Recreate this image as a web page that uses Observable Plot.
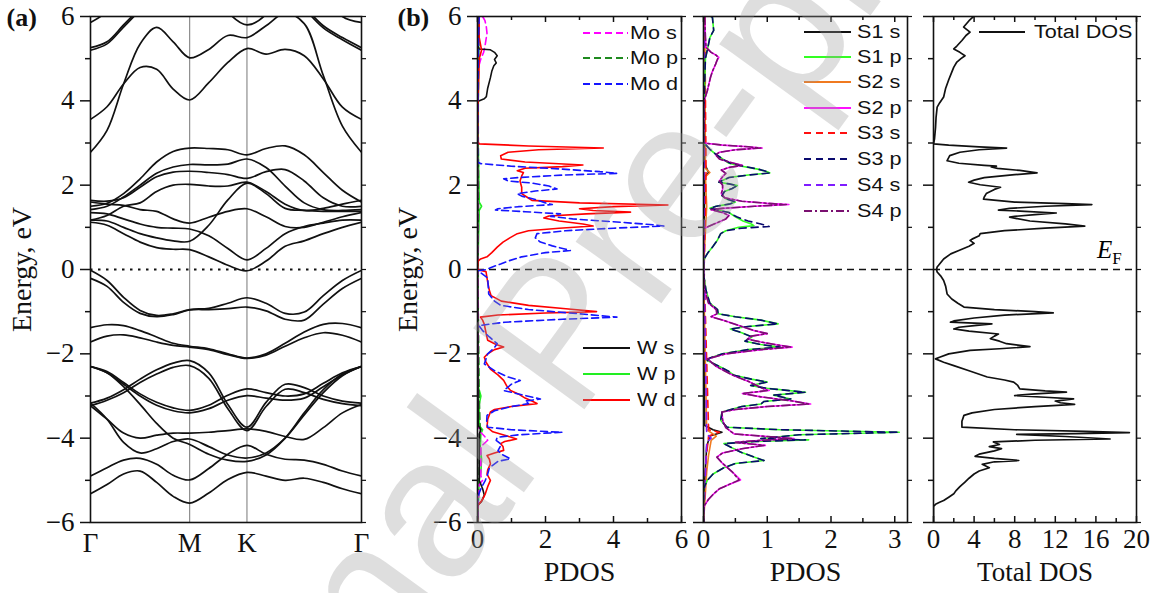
<!DOCTYPE html>
<html><head><meta charset="utf-8">
<script src="https://cdn.jsdelivr.net/npm/d3@7"></script>
<script src="https://cdn.jsdelivr.net/npm/@observablehq/plot@0.6"></script>
<style>
body{margin:0;background:#fff;}
#wrap{position:relative;width:1166px;height:593px;overflow:hidden;background:#fff;}
.panel{position:absolute;top:0;}
.leg{position:absolute;font-family:"Liberation Sans",Arial,sans-serif;font-size:18px;color:#111;white-space:nowrap;line-height:20px;height:20px;}
.leg svg{position:absolute;top:5px;}
.leg span{position:absolute;top:0;display:inline-block;transform:scaleX(1.2);transform-origin:left center;}
#ef{position:absolute;font-family:"Liberation Serif",serif;font-size:25px;left:1097px;top:236px;}
#ef sub{font-size:17px;font-style:normal;}
#wm{position:absolute;left:0;top:0;pointer-events:none;}
</style></head><body><div id="wrap"></div>
<script>
// ---------- band structure (panel a) ----------
const kHigh = [0, 0.5774, 0.9107, 1.5774];           // Γ, M, K, Γ
const kNames = ["Γ", "M", "K", "Γ"];
const kSteps = [6, 3, 6];
const eMajor = [-6, -4, -2, 0, 2, 4, 6];
const eMinor = [-5, -3, -1, 1, 3, 5];

const bands = {
  Ua: [2.78, 3.30, 4.40, 5.35, 5.74, 5.40, 5.02, 5.22, 5.55, 5.50, 5.78, 6.08, 5.83, 4.60, 3.40, 2.78],
  Ub: [3.56, 3.86, 4.40, 4.79, 4.75, 4.28, 4.02, 4.43, 4.91, 5.24, 5.11, 5.22, 5.07, 4.52, 3.85, 3.56],
  Ud: [NaN, NaN, NaN, NaN, NaN, NaN, 7.50, 6.80, 6.10, 5.80, 6.05, 6.80, NaN, NaN, NaN, NaN],
  Ue1: [5.26, 5.40, 5.80, 6.20, 6.60, NaN, NaN, NaN, NaN, NaN, NaN, NaN, 6.25, 5.78, 5.50, 5.26],
  Ue2: [5.20, 5.35, 5.75, 6.15, 6.55, NaN, NaN, NaN, NaN, NaN, NaN, NaN, 6.20, 5.73, 5.45, 5.20],
  Uf: [5.86, 6.12, 6.70, NaN, NaN, NaN, NaN, NaN, NaN, NaN, NaN, NaN, NaN, 6.60, 6.00, 5.86],
  A: [1.50, 1.57, 1.80, 2.15, 2.55, 2.80, 2.88, 2.87, 2.84, 2.72, 2.87, 2.93, 2.72, 2.30, 1.88, 1.60],
  B: [1.42, 1.50, 1.72, 2.00, 2.28, 2.43, 2.49, 2.48, 2.50, 2.62, 2.42, 1.98, 1.58, 1.42, 1.40, 1.42],
  C: [1.64, 1.62, 1.70, 1.95, 2.20, 2.31, 2.33, 2.30, 2.25, 2.16, 2.32, 2.37, 2.10, 1.70, 1.50, 1.50],
  D: [1.17, 1.28, 1.50, 1.58, 1.85, 2.00, 2.02, 1.98, 1.98, 2.07, 1.85, 1.55, 1.40, 1.45, 1.55, 1.64],
  E: [1.60, 1.55, 1.52, 1.42, 1.38, 1.20, 1.10, 1.24, 1.38, 1.44, 1.25, 1.02, 1.00, 1.12, 1.25, 1.35],
  F: [1.35, 1.32, 1.20, 1.08, 1.00, 0.98, 0.96, 0.80, 0.50, 0.23, 0.50, 0.85, 1.02, 1.10, 1.17, 1.17],
  G: [1.17, 1.15, 1.00, 0.85, 0.75, 0.68, 0.67, 1.05, 1.65, 2.05, 1.80, 1.45, 1.40, 1.38, 1.38, 1.38],
  H: [1.12, 1.05, 0.85, 0.65, 0.52, 0.48, 0.47, 0.30, 0.10, -0.03, 0.20, 0.55, 0.68, 0.85, 1.00, 1.12],
  V1: [-0.02, -0.26, -0.66, -0.97, -1.09, -1.05, -0.95, -0.92, -0.80, -0.67, -0.80, -1.04, -1.01, -0.62, -0.26, -0.02],
  V2: [-0.21, -0.40, -0.78, -1.04, -1.12, -1.07, -0.96, -0.95, -0.93, -0.89, -0.98, -1.18, -1.20, -0.82, -0.45, -0.21],
  V3: [-1.38, -1.31, -1.33, -1.45, -1.60, -1.75, -1.82, -1.88, -2.00, -2.10, -2.00, -1.75, -1.48, -1.30, -1.28, -1.38],
  V4: [-1.72, -1.58, -1.55, -1.62, -1.72, -1.80, -1.84, -1.90, -2.02, -2.11, -2.03, -1.82, -1.62, -1.50, -1.56, -1.72],
  Q1: [-2.30, -2.42, -2.68, -2.95, -3.15, -3.28, -3.34, -3.22, -2.98, -2.83, -2.92, -3.00, -2.95, -2.70, -2.45, -2.30],
  Q2: [-2.30, -2.45, -2.72, -3.00, -3.22, -3.35, -3.40, -3.30, -3.10, -2.99, -3.05, -3.10, -3.05, -2.78, -2.50, -2.30],
  Q3: [-3.17, -3.05, -2.85, -2.60, -2.38, -2.22, -2.16, -2.45, -3.20, -3.74, -3.15, -2.72, -2.80, -3.00, -3.12, -3.17],
  Q4: [-3.23, -3.10, -2.92, -2.68, -2.48, -2.32, -2.28, -2.58, -3.30, -3.82, -3.25, -2.84, -2.92, -3.08, -3.18, -3.23],
  Q5: [-3.23, -3.55, -3.88, -4.00, -3.93, -3.88, -3.88, -3.86, -3.82, -3.78, -3.84, -3.96, -4.03, -3.75, -3.40, -3.20],
  Q6: [-3.17, -3.55, -4.10, -4.35, -4.25, -4.08, -4.02, -4.20, -4.40, -4.47, -4.35, -4.00, -3.45, -2.92, -2.52, -2.30],
  Q7: [-2.30, -2.45, -2.78, -3.20, -3.65, -4.00, -4.15, -4.38, -4.52, -4.55, -4.40, -4.00, -3.40, -2.85, -2.48, -2.30],
  Q9: [-4.90, -4.70, -4.52, -4.48, -4.62, -4.88, -4.99, -4.72, -4.38, -4.17, -4.38, -4.50, -4.52, -4.62, -4.78, -4.90],
  Q10: [-5.32, -5.10, -4.85, -4.78, -5.05, -5.38, -5.54, -5.30, -4.98, -4.81, -4.90, -5.00, -4.95, -5.05, -5.20, -5.32]
};

// ---------- PDOS, panel b1: [energy, PDOS] ----------
const Wd = [[6.0,0.05],[5.5,0.05],[5.2,0.12],[5.0,0.05],[4.0,0.02],[3.05,0],[2.98,0.05],[2.93,1.5],[2.88,3.7],[2.84,1.8],[2.78,0.9],[2.70,0.68],[2.62,0.7],[2.55,1.4],[2.48,3.1],[2.44,2.5],[2.40,1.4],[2.34,1.17],[2.30,1.35],[2.22,1.3],[2.10,1.25],[1.95,1.3],[1.80,1.3],[1.72,1.45],[1.64,1.6],[1.58,3.0],[1.53,5.6],[1.49,4.0],[1.44,3.0],[1.40,3.4],[1.36,4.5],[1.32,3.2],[1.27,2.1],[1.22,1.95],[1.15,2.4],[1.08,3.1],[1.03,3.4],[0.98,2.4],[0.92,1.5],[0.85,1.17],[0.75,0.95],[0.65,0.75],[0.53,0.58],[0.40,0.42],[0.30,0.28],[0.25,0.09],[0.2,0.02],[0.0,0.0],[-0.05,0.25],[-0.3,0.3],[-0.5,0.35],[-0.62,0.4],[-0.75,0.7],[-0.85,1.5],[-0.93,2.6],[-1.0,3.5],[-1.03,2.0],[-1.08,0.6],[-1.13,0.09],[-1.2,0.15],[-1.3,0.2],[-1.5,0.25],[-1.68,0.3],[-1.78,0.55],[-1.84,0.77],[-1.9,0.5],[-2.0,0.3],[-2.08,0.2],[-2.2,0.25],[-2.36,0.38],[-2.5,0.6],[-2.63,0.77],[-2.75,0.85],[-2.87,0.97],[-2.95,1.2],[-3.05,1.4],[-3.12,1.6],[-3.18,1.75],[-3.25,1.0],[-3.32,0.5],[-3.38,0.38],[-3.55,0.3],[-3.74,0.28],[-3.85,0.45],[-3.93,0.8],[-4.02,1.15],[-4.08,0.8],[-4.13,0.68],[-4.2,0.75],[-4.29,0.77],[-4.35,0.5],[-4.41,0.28],[-4.5,0.35],[-4.61,0.38],[-4.75,0.3],[-4.85,0.28],[-5.0,0.38],[-5.15,0.3],[-5.32,0.23],[-5.45,0.15],[-5.52,0.09],[-5.6,0],[-6,0]];
const Md = [[6.0,0.05],[5.5,0.03],[3.0,0.0],[2.55,0.0],[2.51,0.1],[2.45,1.0],[2.38,2.5],[2.32,3.6],[2.28,4.1],[2.24,2.5],[2.18,1.2],[2.15,0.77],[2.1,0.9],[2.05,1.6],[1.98,2.1],[1.91,2.34],[1.86,1.7],[1.80,1.17],[1.74,1.3],[1.66,1.7],[1.58,2.0],[1.54,2.2],[1.49,1.2],[1.44,0.6],[1.41,0.53],[1.37,1.4],[1.32,2.44],[1.26,2.15],[1.2,2.8],[1.12,4.2],[1.06,5.2],[1.03,5.48],[0.98,4.0],[0.92,2.6],[0.85,1.75],[0.75,1.7],[0.65,1.85],[0.56,2.2],[0.48,2.6],[0.45,2.73],[0.40,2.0],[0.30,1.3],[0.20,0.9],[0.13,0.68],[0.05,0.4],[0.0,0.28],[-0.03,0.02],[-0.08,0.1],[-0.2,0.3],[-0.58,0.33],[-0.75,0.5],[-0.85,0.68],[-0.95,1.5],[-1.05,3.0],[-1.13,4.1],[-1.18,2.5],[-1.25,0.8],[-1.33,0.04],[-1.45,0.15],[-1.6,0.35],[-1.76,0.58],[-1.85,0.5],[-2.0,0.3],[-2.24,0.2],[-2.4,0.5],[-2.55,0.9],[-2.63,1.26],[-2.72,1.0],[-2.87,0.77],[-2.97,1.3],[-3.07,1.85],[-3.12,1.4],[-3.18,1.5],[-3.25,1.0],[-3.35,0.5],[-3.46,0.28],[-3.6,0.27],[-3.74,0.3],[-3.8,1.0],[-3.86,2.49],[-3.92,1.2],[-3.98,0.58],[-4.05,0.55],[-4.15,0.7],[-4.3,0.6],[-4.4,0.75],[-4.49,0.97],[-4.55,0.6],[-4.7,0.35],[-4.85,0.3],[-5.0,0.23],[-5.2,0.1],[-5.32,0.04],[-5.5,0],[-6,0]];
const Ws = [[6,0.0],[5.3,0.02],[5.23,0.05],[5.21,0.38],[5.15,0.5],[5.07,0.58],[4.98,0.5],[4.9,0.55],[4.83,0.48],[4.7,0.42],[4.55,0.38],[4.3,0.3],[4.1,0.26],[4.05,0.2],[3.99,0.02],[3.9,0],[0,0],[-3.7,0.02],[-3.8,0.1],[-3.9,0.05],[-5.0,0.05],[-5.2,0.15],[-5.35,0.2],[-5.5,0.12],[-5.6,0],[-6,0]];
const Ms = [[6,0.15],[5.9,0.22],[5.75,0.26],[5.6,0.28],[5.45,0.25],[5.3,0.22],[5.15,0.18],[5.0,0.1],[4.8,0.03],[4,0],[-3.8,0.02],[-3.95,0.2],[-4.05,0.3],[-4.2,0.1],[-4.9,0.1],[-5.0,0.15],[-5.1,0.05],[-6,0]];
const Wp = [[6,0.03],[3,0.02],[1.6,0.05],[1.5,0.12],[1.4,0.05],[0,0.01],[-2.8,0.03],[-3.0,0.1],[-3.2,0.05],[-3.7,0.05],[-3.8,0.15],[-3.9,0.1],[-4.2,0.08],[-4.5,0.12],[-4.8,0.1],[-5.0,0.05],[-5.5,0.03],[-6,0]];
const Mp = [[6,0.05],[5.5,0.04],[4,0.02],[1.5,0.03],[0,0.01],[-3,0.05],[-3.8,0.08],[-4.5,0.06],[-5.5,0.02],[-6,0]];

// ---------- PDOS, panel b2 (S atoms) ----------
const S1p = [[6.0,0.12],[5.98,0.14],[5.67,0.16],[5.5,0.1],[5.35,0.08],[5.0,0.03],[4.0,0.01],[3.0,0.0],[2.95,0.04],[2.85,0.1],[2.75,0.18],[2.62,0.3],[2.52,0.4],[2.45,0.6],[2.38,0.85],[2.32,1.0],[2.29,1.04],[2.24,0.7],[2.18,0.4],[2.1,0.28],[2.07,0.24],[2.03,0.4],[1.99,0.53],[1.92,0.45],[1.85,0.33],[1.75,0.29],[1.68,0.35],[1.6,0.5],[1.55,0.4],[1.5,0.2],[1.45,0.1],[1.4,0.25],[1.35,0.4],[1.25,0.5],[1.15,0.62],[1.08,0.75],[1.04,0.79],[1.0,0.55],[0.92,0.35],[0.85,0.27],[0.7,0.22],[0.55,0.15],[0.4,0.07],[0.3,0.03],[0.2,0.0],[0,0],[-0.2,0.01],[-0.5,0.04],[-0.8,0.1],[-0.95,0.22],[-1.05,0.23],[-1.12,0.5],[-1.2,0.9],[-1.29,1.17],[-1.35,0.7],[-1.41,0.42],[-1.5,0.6],[-1.6,0.76],[-1.7,0.65],[-1.78,0.9],[-1.84,1.2],[-1.9,0.7],[-2.0,0.3],[-2.1,0.1],[-2.16,0.06],[-2.3,0.25],[-2.42,0.4],[-2.51,0.48],[-2.6,0.75],[-2.67,1.0],[-2.75,0.74],[-2.82,1.0],[-2.91,1.6],[-2.98,1.1],[-3.07,1.37],[-3.13,0.95],[-3.19,0.9],[-3.25,0.6],[-3.38,0.29],[-3.58,0.27],[-3.74,0.37],[-3.8,1.2],[-3.86,3.07],[-3.92,1.5],[-4.01,0.9],[-4.04,1.65],[-4.08,0.8],[-4.13,0.32],[-4.23,0.45],[-4.33,0.58],[-4.45,0.8],[-4.53,0.95],[-4.6,0.5],[-4.7,0.32],[-4.85,0.15],[-5.0,0.06],[-5.2,0.0],[-6,0]];
const S3p = [[6.0,0.12],[5.98,0.14],[5.67,0.16],[5.5,0.1],[5.35,0.08],[5.0,0.03],[4.0,0.01],[3.0,0.0],[2.95,0.04],[2.85,0.1],[2.75,0.18],[2.62,0.3],[2.52,0.42],[2.45,0.62],[2.38,0.86],[2.32,1.0],[2.29,1.04],[2.24,0.7],[2.18,0.4],[2.1,0.28],[2.07,0.24],[2.03,0.4],[1.99,0.53],[1.92,0.45],[1.85,0.33],[1.75,0.29],[1.68,0.35],[1.6,0.5],[1.55,0.4],[1.5,0.2],[1.45,0.1],[1.4,0.25],[1.35,0.4],[1.25,0.52],[1.15,0.7],[1.08,0.9],[1.02,1.03],[0.98,0.6],[0.92,0.35],[0.85,0.27],[0.7,0.22],[0.55,0.15],[0.4,0.07],[0.3,0.03],[0.2,0.0],[0,0],[-0.2,0.01],[-0.5,0.04],[-0.8,0.1],[-0.95,0.22],[-1.05,0.23],[-1.12,0.5],[-1.2,0.9],[-1.29,1.17],[-1.35,0.7],[-1.41,0.42],[-1.5,0.6],[-1.6,0.76],[-1.7,0.65],[-1.78,0.9],[-1.84,1.2],[-1.9,0.7],[-2.0,0.3],[-2.1,0.1],[-2.16,0.06],[-2.3,0.25],[-2.42,0.4],[-2.51,0.48],[-2.6,0.75],[-2.67,1.0],[-2.75,0.74],[-2.82,1.0],[-2.91,1.6],[-2.98,1.1],[-3.07,1.37],[-3.13,0.95],[-3.19,0.9],[-3.25,0.6],[-3.38,0.29],[-3.58,0.27],[-3.74,0.37],[-3.8,1.2],[-3.86,3.07],[-3.92,1.5],[-4.01,0.9],[-4.04,1.6],[-4.08,0.8],[-4.13,0.32],[-4.23,0.45],[-4.33,0.58],[-4.45,0.8],[-4.53,0.95],[-4.6,0.5],[-4.7,0.32],[-4.85,0.15],[-5.0,0.06],[-5.2,0.0],[-6,0]];
const S2p = [[6.0,0.02],[5.5,0.03],[5.27,0.04],[5.15,0.12],[5.08,0.2],[5.03,0.24],[4.95,0.21],[4.87,0.19],[4.7,0.14],[4.56,0.11],[4.24,0.06],[4.0,0.01],[3.0,0.0],[2.95,0.3],[2.91,0.7],[2.88,0.92],[2.84,0.5],[2.78,0.25],[2.72,0.19],[2.62,0.25],[2.55,0.4],[2.47,0.61],[2.42,0.4],[2.36,0.28],[2.28,0.35],[2.2,0.3],[2.1,0.25],[2.0,0.3],[1.9,0.3],[1.8,0.28],[1.7,0.33],[1.62,0.6],[1.57,1.0],[1.54,1.34],[1.5,0.8],[1.45,0.3],[1.42,0.12],[1.35,0.3],[1.28,0.4],[1.2,0.35],[1.1,0.2],[1.0,0.05],[0.97,0.0],[0,0],[-0.5,0.02],[-0.8,0.08],[-0.95,0.2],[-1.05,0.21],[-1.12,0.12],[-1.2,0.3],[-1.35,0.6],[-1.45,0.8],[-1.52,1.0],[-1.58,0.75],[-1.65,0.69],[-1.72,0.9],[-1.8,1.2],[-1.84,1.39],[-1.9,0.9],[-2.0,0.35],[-2.12,0.06],[-2.3,0.2],[-2.5,0.45],[-2.65,0.7],[-2.8,0.9],[-2.87,1.03],[-2.94,0.61],[-3.02,0.9],[-3.12,1.4],[-3.19,1.68],[-3.25,1.0],[-3.32,0.5],[-3.38,0.29],[-3.58,0.3],[-3.75,0.35],[-3.9,0.48],[-3.96,1.0],[-4.01,1.42],[-4.06,0.8],[-4.1,0.5],[-4.17,0.97],[-4.25,0.6],[-4.35,0.3],[-4.45,0.21],[-4.6,0.3],[-4.8,0.45],[-4.99,0.58],[-5.1,0.4],[-5.2,0.25],[-5.32,0.16],[-5.45,0.08],[-5.56,0.03],[-5.65,0],[-6,0]];
const S4p = [[6.0,0.02],[5.5,0.03],[5.27,0.04],[5.15,0.12],[5.08,0.2],[5.03,0.23],[4.95,0.21],[4.87,0.19],[4.7,0.14],[4.56,0.11],[4.24,0.06],[4.0,0.01],[3.0,0.0],[2.95,0.3],[2.91,0.7],[2.88,0.9],[2.84,0.5],[2.78,0.25],[2.72,0.19],[2.62,0.25],[2.55,0.4],[2.47,0.6],[2.42,0.4],[2.36,0.28],[2.28,0.35],[2.2,0.3],[2.1,0.25],[2.0,0.3],[1.9,0.3],[1.8,0.28],[1.7,0.33],[1.62,0.6],[1.57,1.0],[1.54,1.3],[1.5,0.8],[1.45,0.3],[1.42,0.12],[1.35,0.3],[1.28,0.4],[1.2,0.35],[1.1,0.2],[1.0,0.05],[0.97,0.0],[0,0],[-0.5,0.02],[-0.8,0.08],[-0.95,0.2],[-1.05,0.21],[-1.12,0.12],[-1.2,0.3],[-1.35,0.6],[-1.45,0.8],[-1.52,1.0],[-1.58,0.75],[-1.65,0.69],[-1.72,0.9],[-1.8,1.2],[-1.84,1.37],[-1.9,0.9],[-2.0,0.35],[-2.12,0.06],[-2.3,0.2],[-2.5,0.45],[-2.65,0.7],[-2.8,0.9],[-2.87,1.0],[-2.94,0.61],[-3.02,0.9],[-3.12,1.4],[-3.19,1.65],[-3.25,1.0],[-3.32,0.5],[-3.38,0.29],[-3.58,0.3],[-3.75,0.35],[-3.9,0.48],[-3.96,1.0],[-4.01,1.4],[-4.06,0.8],[-4.1,0.5],[-4.17,0.95],[-4.25,0.6],[-4.35,0.3],[-4.45,0.21],[-4.6,0.3],[-4.8,0.45],[-4.99,0.56],[-5.1,0.4],[-5.2,0.25],[-5.32,0.16],[-5.45,0.08],[-5.56,0.03],[-5.65,0],[-6,0]];
const S1s = [[6,0.01],[2.5,0.02],[2.3,0.08],[2.2,0.02],[0,0],[-3.7,0.02],[-3.8,0.15],[-3.86,0.29],[-3.95,0.1],[-4.2,0.05],[-5,0.02],[-6,0]];
const S2s = [[6,0.02],[2.4,0.03],[2.3,0.1],[2.2,0.03],[1.5,0.05],[0,0],[-3.8,0.05],[-3.95,0.2],[-4.05,0.12],[-4.4,0.08],[-4.8,0.05],[-5.3,0.03],[-6,0]];
const S3s = [[6,0.02],[2.3,0.04],[0,0.01],[-3.8,0.08],[-3.86,0.25],[-3.95,0.08],[-4.5,0.04],[-6,0]];
const S4s = [[6,0.01],[0,0.01],[-3.9,0.05],[-4.0,0.12],[-4.1,0.05],[-6,0]];

// ---------- Total DOS (panel b3) ----------
const TDOS = [[6.0,3.95],[5.9,3.5],[5.75,2.97],[5.63,3.6],[5.55,3.2],[5.43,2.8],[5.3,2.3],[5.23,2.0],[5.15,2.6],[5.07,3.1],[5.0,2.7],[4.92,2.3],[4.8,2.0],[4.68,1.8],[4.5,1.5],[4.3,1.2],[4.09,1.0],[3.95,0.6],[3.85,0.36],[3.6,0.25],[3.37,0.2],[3.1,0.1],[2.98,0.0],[2.95,1.5],[2.91,4.5],[2.88,7.2],[2.84,4.5],[2.78,2.6],[2.7,1.6],[2.58,1.34],[2.52,2.5],[2.47,5.0],[2.45,6.2],[2.43,5.7],[2.4,6.3],[2.35,8.5],[2.29,10.2],[2.25,8.0],[2.18,5.0],[2.12,4.0],[2.07,3.46],[2.01,4.6],[1.95,6.6],[1.9,6.0],[1.8,5.2],[1.72,5.0],[1.67,4.93],[1.6,8.0],[1.56,13.0],[1.54,15.6],[1.5,11.0],[1.45,7.5],[1.41,6.4],[1.38,9.0],[1.34,12.1],[1.3,10.0],[1.26,8.0],[1.24,7.5],[1.15,9.5],[1.08,13.0],[1.03,14.9],[0.98,11.0],[0.92,7.0],[0.85,4.6],[0.8,4.5],[0.72,3.8],[0.69,3.6],[0.62,4.0],[0.55,3.5],[0.45,2.5],[0.37,1.7],[0.25,1.0],[0.1,0.5],[0.06,0.36],[0.0,0.3],[-0.06,0.36],[-0.15,0.7],[-0.26,1.0],[-0.4,1.2],[-0.58,1.34],[-0.7,1.8],[-0.8,2.4],[-0.89,3.0],[-0.95,6.0],[-1.0,10.0],[-1.03,11.8],[-1.08,7.0],[-1.15,4.0],[-1.22,2.0],[-1.25,1.67],[-1.29,5.75],[-1.33,4.0],[-1.37,2.5],[-1.41,2.0],[-1.46,3.5],[-1.53,6.4],[-1.58,6.0],[-1.64,5.6],[-1.7,6.5],[-1.76,7.2],[-1.83,9.5],[-1.88,6.5],[-1.92,3.6],[-2.0,1.5],[-2.08,0.6],[-2.12,0.2],[-2.2,1.0],[-2.28,2.0],[-2.4,3.5],[-2.55,5.3],[-2.62,7.0],[-2.67,7.9],[-2.75,8.3],[-2.83,8.5],[-2.88,11.0],[-2.91,13.1],[-2.95,10.0],[-2.99,8.0],[-3.03,11.0],[-3.07,13.8],[-3.12,12.0],[-3.16,12.5],[-3.2,13.9],[-3.25,10.0],[-3.32,6.0],[-3.4,3.8],[-3.46,3.0],[-3.6,2.8],[-3.74,2.8],[-3.8,8.0],[-3.84,15.0],[-3.87,19.3],[-3.89,14.0],[-3.91,8.2],[-3.96,13.0],[-4.02,17.4],[-4.05,10.0],[-4.09,5.9],[-4.15,6.5],[-4.2,5.5],[-4.25,6.7],[-4.3,6.0],[-4.38,4.5],[-4.43,4.1],[-4.48,6.0],[-4.53,8.4],[-4.56,6.0],[-4.62,4.8],[-4.7,5.5],[-4.78,4.5],[-4.85,4.0],[-4.95,3.5],[-5.04,3.1],[-5.15,2.6],[-5.25,2.2],[-5.32,2.0],[-5.4,1.5],[-5.48,1.0],[-5.52,0.6],[-5.57,0.2],[-5.62,0],[-6,0]];

const pdosTicks1 = [0, 2, 4, 6], pdosMinor1 = [1, 3, 5];
const pdosTicks2 = [0, 1, 2, 3], pdosMinor2 = [0.5, 1.5, 2.5];
const totTicks = [0, 4, 8, 12, 16, 20], totMinor = [2, 6, 10, 14, 18];

// ---------- helpers ----------
const fmtE = d => d < 0 ? "\u2212" + (-d) : String(d);
const kGrid = [];
kHigh.slice(0, -1).forEach((k0, i) => {
  const k1 = kHigh[i + 1];
  for (let j = 0; j < kSteps[i]; j++) kGrid.push(k0 + (k1 - k0) * j / kSteps[i]);
});
kGrid.push(kHigh[kHigh.length - 1]);
const bandRows = Object.entries(bands).flatMap(([name, es]) => es.map((E, i) => ({band: name, k: kGrid[i], E})));
const kLab = new Map(kHigh.map((k, i) => [k, kNames[i]]));

const H = 593, MT = 16, MB = 71, innerH = H - MT - MB;
const baseStyle = {fontFamily: "'Liberation Serif', 'Times New Roman', serif", fontSize: "27px", overflow: "visible", background: "transparent", color: "#111"};
const wrap = document.getElementById("wrap");
function place(svg, left) { const d = document.createElement("div"); d.className = "panel"; d.style.left = left + "px"; d.appendChild(svg); wrap.appendChild(d); }

function yAxes(labels) {
  return [
    Plot.axisY({ticks: eMajor, tickSize: 10, tickPadding: 6, tickFormat: labels ? fmtE : () => "", label: null, strokeWidth: 1.5}),
    Plot.axisY({ticks: eMinor, tickSize: 5, tickFormat: () => "", label: null, strokeWidth: 1.5}),
    Plot.axisY({anchor: "right", ticks: eMajor.concat(eMinor), tickSize: 4, tickFormat: () => "", label: null, strokeWidth: 1.2})
  ];
}
function xTicksIn(major, minor) {
  return [
    Plot.tickX(major, {x: d => d, insetTop: innerH - 6, stroke: "#111", strokeWidth: 1.5}),
    Plot.tickX(minor, {x: d => d, insetTop: innerH - 4, stroke: "#111", strokeWidth: 1.5}),
    Plot.tickX(major, {x: d => d, insetBottom: innerH - 6, stroke: "#111", strokeWidth: 1.5}),
    Plot.tickX(minor, {x: d => d, insetBottom: innerH - 4, stroke: "#111", strokeWidth: 1.5}),
    Plot.axisX({ticks: major, tickSize: 0, tickPadding: 6, tickFormat: d => String(d), label: null})
  ];
}
const ln = (data, stroke, opts = {}) => Plot.line(data, {x: d => d[1], y: d => d[0], stroke, strokeWidth: 1.6, clip: true, ...opts});
const zeroDash = Plot.ruleY([0], {stroke: "#111", strokeWidth: 1.5, strokeDasharray: "7,5"});

// ---------- panel (a) ----------
place(Plot.plot({
  width: 372, height: H, marginLeft: 90, marginRight: 11, marginTop: MT, marginBottom: MB,
  style: baseStyle,
  x: {domain: [kHigh[0], kHigh[3]]},
  y: {domain: [-6, 6]},
  marks: [
    Plot.ruleX([kHigh[1], kHigh[2]], {stroke: "#777", strokeWidth: 1}),
    Plot.ruleY([0], {stroke: "#111", strokeWidth: 1.8, strokeDasharray: "2.5,5.5"}),
    Plot.line(bandRows, {x: "k", y: "E", z: "band", curve: "catmull-rom", stroke: "#111", strokeWidth: 1.7, clip: true}),
    Plot.frame({stroke: "#111", strokeWidth: 1.6}),
    ...yAxes(true),
    Plot.axisX({ticks: kHigh, tickSize: 0, tickPadding: 10, tickFormat: d => kLab.get(d), label: null}),
    Plot.text(["Energy, eV"], {frameAnchor: "left", dx: -68, rotate: -90, textAnchor: "middle", fontSize: 28}),
    Plot.text(["(a)"], {frameAnchor: "top-left", dx: -84, dy: 1, textAnchor: "start", lineAnchor: "middle", fontWeight: "bold", fontSize: 26})
  ]
}), 0);

// ---------- panel (b) PDOS Mo/W ----------
place(Plot.plot({
  width: 310, height: H, marginLeft: 97, marginRight: 9, marginTop: MT, marginBottom: MB,
  style: baseStyle,
  x: {domain: [0, 6]},
  y: {domain: [-6, 6]},
  marks: [
    zeroDash,
    ln(Wp, "#22ee22"),
    ln(Mp, "#1f8a1f", {strokeDasharray: "7,4"}),
    ln(Ms, "#ff00ff", {strokeDasharray: "7,4"}),
    ln(Ws, "#111"),
    ln(Wd, "#ff0000"),
    ln(Md, "#1515ff", {strokeDasharray: "7,4"}),
    Plot.frame({stroke: "#111", strokeWidth: 1.6}),
    ...yAxes(true),
    ...xTicksIn(pdosTicks1, pdosMinor1),
    Plot.text(["PDOS"], {frameAnchor: "bottom", dy: 50, lineAnchor: "middle", fontSize: 28}),
    Plot.text(["Energy, eV"], {frameAnchor: "left", dx: -69, rotate: -90, textAnchor: "middle", fontSize: 28}),
    Plot.text(["(b)"], {frameAnchor: "top-left", dx: -80, dy: 1, textAnchor: "start", lineAnchor: "middle", fontWeight: "bold", fontSize: 26})
  ]
}), 380);

// ---------- panel (b) PDOS S ----------
place(Plot.plot({
  width: 225, height: H, marginLeft: 13, marginRight: 8, marginTop: MT, marginBottom: MB,
  style: baseStyle,
  x: {domain: [0, 3.2]},
  y: {domain: [-6, 6]},
  marks: [
    zeroDash,
    ln(S1s, "#111"),
    ln(S2s, "#f07a20"),
    ln(S3s, "#ff1010", {strokeDasharray: "7,5"}),
    ln(S4s, "#7f1cff", {strokeDasharray: "7,5"}),
    ln(S1p, "#33ff22"),
    ln(S2p, "#ff10ff"),
    ln(S3p, "#0a0a6e", {strokeDasharray: "7,5"}),
    ln(S4p, "#7a1070", {strokeDasharray: "8,3,2,3"}),
    Plot.frame({stroke: "#111", strokeWidth: 1.6}),
    ...yAxes(false),
    ...xTicksIn(pdosTicks2, pdosMinor2),
    Plot.text(["PDOS"], {frameAnchor: "bottom", dy: 50, lineAnchor: "middle", fontSize: 28})
  ]
}), 690);

// ---------- panel (b) Total DOS ----------
place(Plot.plot({
  width: 240, height: H, marginLeft: 18, marginRight: 19, marginTop: MT, marginBottom: MB,
  style: baseStyle,
  x: {domain: [0, 20]},
  y: {domain: [-6, 6]},
  marks: [
    zeroDash,
    ln(TDOS, "#111", {strokeWidth: 1.7}),
    Plot.frame({stroke: "#111", strokeWidth: 1.6}),
    ...yAxes(false),
    ...xTicksIn(totTicks, totMinor),
    Plot.text(["Total DOS"], {frameAnchor: "bottom", dy: 50, lineAnchor: "middle", fontSize: 27})
  ]
}), 915);

// ---------- legends ----------
function legend(items) {
  for (const it of items) {
    const d = document.createElement("div");
    d.className = "leg";
    d.style.left = it.x + "px"; d.style.top = (it.y - 10) + "px";
    d.innerHTML = `<svg width="${it.w}" height="10" style="left:0"><line x1="0" y1="5" x2="${it.w}" y2="5" stroke="${it.c}" stroke-width="1.8" ${it.dash ? `stroke-dasharray="${it.dash}"` : ""}/></svg><span style="left:${it.w + it.gap}px">${it.t}</span>`;
    wrap.appendChild(d);
  }
}
legend([
  {x: 583, y: 33, w: 45, gap: 2, c: "#ff00ff", dash: "7,4", t: "Mo s"},
  {x: 583, y: 58, w: 45, gap: 2, c: "#1f8a1f", dash: "7,4", t: "Mo p"},
  {x: 583, y: 84, w: 45, gap: 2, c: "#1515ff", dash: "7,4", t: "Mo d"},
  {x: 583, y: 348, w: 47, gap: 7, c: "#111", t: "W s"},
  {x: 583, y: 374, w: 47, gap: 7, c: "#22ee22", t: "W p"},
  {x: 583, y: 400, w: 47, gap: 7, c: "#ff0000", t: "W d"},
  {x: 804, y: 32, w: 47, gap: 6, c: "#111", t: "S1 s"},
  {x: 804, y: 57, w: 47, gap: 6, c: "#33ff22", t: "S1 p"},
  {x: 804, y: 82, w: 47, gap: 6, c: "#f07a20", t: "S2 s"},
  {x: 804, y: 108, w: 47, gap: 6, c: "#ff10ff", t: "S2 p"},
  {x: 804, y: 133, w: 47, gap: 6, c: "#ff1010", dash: "7,5", t: "S3 s"},
  {x: 804, y: 159, w: 47, gap: 6, c: "#0a0a6e", dash: "7,5", t: "S3 p"},
  {x: 804, y: 185, w: 47, gap: 6, c: "#7f1cff", dash: "7,5", t: "S4 s"},
  {x: 804, y: 211, w: 47, gap: 6, c: "#7a1070", dash: "8,3,2,3", t: "S4 p"},
  {x: 979, y: 32, w: 46, gap: 9, c: "#111", t: "Total DOS"}
]);
const ef = document.createElement("div");
ef.id = "ef"; ef.innerHTML = "<i>E</i><sub>F</sub>";
wrap.appendChild(ef);

// ---------- watermark ----------
const wm = document.createElementNS("http://www.w3.org/2000/svg", "svg");
wm.setAttribute("id", "wm"); wm.setAttribute("width", 1166); wm.setAttribute("height", 593);
wm.innerHTML = `<text x="0" y="0" transform="translate(568,342) rotate(-54)" text-anchor="middle" dominant-baseline="middle" font-family="Liberation Sans, Arial, sans-serif" font-size="200" fill="#9a9a9a" fill-opacity="0.33">Journal Pre-proof</text>`;
wrap.appendChild(wm);
</script></body></html>
